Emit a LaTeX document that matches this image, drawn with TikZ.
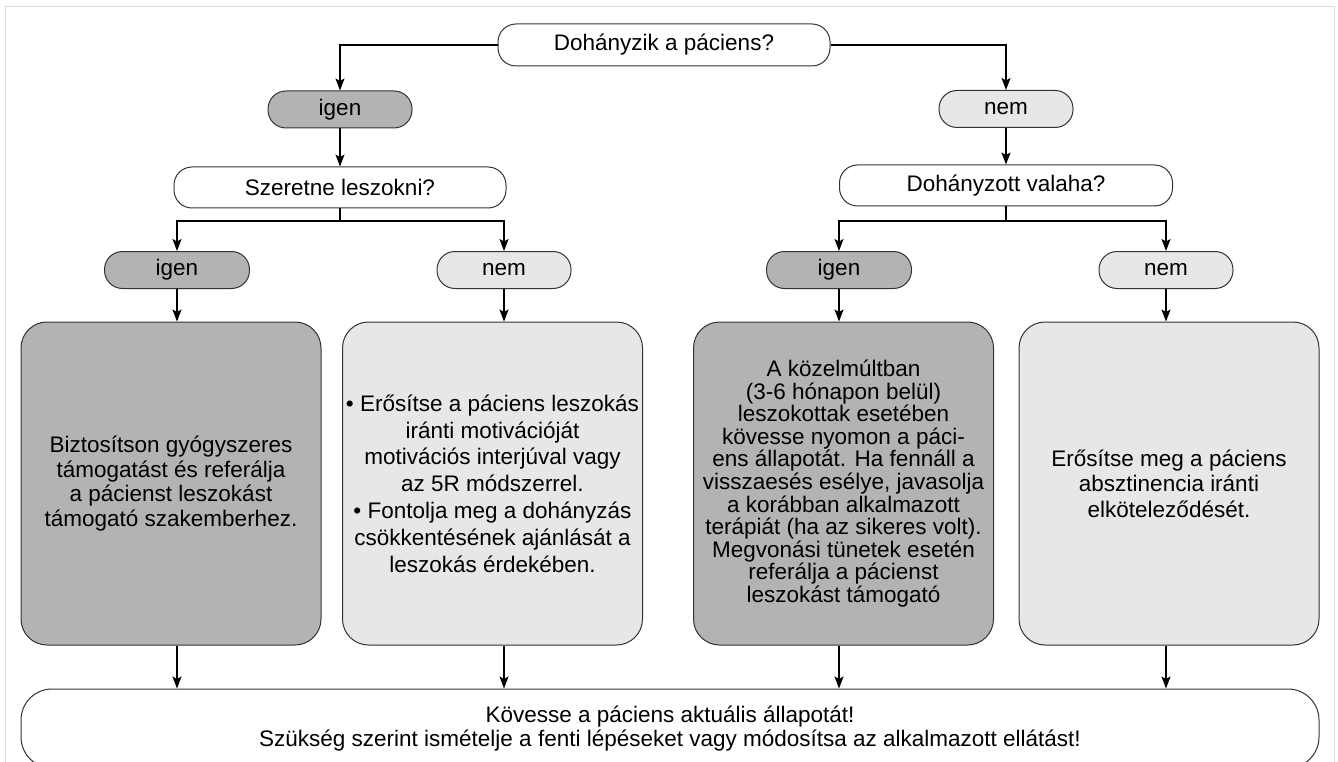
\documentclass[tikz,border=0pt]{standalone}
\usepackage{fontspec}
\setmainfont{Liberation Sans}
\usetikzlibrary{arrows.meta}
\definecolor{darkfill}{HTML}{B1B3B5}
\definecolor{lightfill}{HTML}{E6E7E8}
\definecolor{edge}{HTML}{333333}
\definecolor{frame}{HTML}{DADADA}
\tikzset{
  base/.style={draw=edge, line width=1pt, inner sep=0pt, align=center,
    font=\fontsize{22.5}{24}\selectfont},
  pill/.style={base, rectangle, rounded corners=18pt, minimum height=37pt},
  qpill/.style={pill, fill=white, minimum height=42pt, minimum width=332pt},
  dpill/.style={pill, fill=darkfill, minimum width=145pt},
  lpill/.style={pill, fill=lightfill, minimum width=134pt},
  card/.style={base, rounded corners=26pt, minimum width=300pt, minimum height=323pt},
  dcard/.style={card, fill=darkfill},
  lcard/.style={card, fill=lightfill},
  arr/.style={line width=1.2pt, black, -{Stealth[length=12pt,width=9pt,inset=2.5pt]}},
  ln/.style={line width=1.2pt, black},
}
\begin{document}
\begin{tikzpicture}[x=1pt,y=-1pt]
\clip (0,0) rectangle (1338,762);
\fill[white] (0,0) rectangle (1338,762);
\draw[frame, line width=1pt] (5,770) -- (5,7) -- (1334,7) -- (1334,770);

% top question
\node[qpill] (q1) at (664,45) {Dohányzik a páciens?};
\node[dpill, minimum width=144pt] (y1) at (340,109.5) {igen};
\node[lpill] (n1) at (1006,109) {nem};
\node[qpill, minimum height=41pt] (q2) at (340,187.5) {Szeretne leszokni?};
\node[qpill, minimum height=41pt, minimum width=333pt] (q3) at (1006,185.5) {Dohányzott valaha?};

\node[dpill] (y2) at (177,270) {igen};
\node[lpill] (n2) at (504,270) {nem};
\node[dpill] (y3) at (839,270) {igen};
\node[lpill] (n3) at (1166,270) {nem};

\node[dcard, font=\fontsize{22.5}{24.5}\selectfont] (b1) at (171,483.5)
  {Biztosítson gyógyszeres\\támogatást és referálja\\a pácienst leszokást\\támogató szakemberhez.};
\node[lcard, font=\fontsize{22.5}{26.8}\selectfont] (b2) at (492.5,483.5)
  {• Erősítse a páciens leszokás\\iránti motivációját\\motivációs interjúval vagy\\az 5R módszerrel.\\• Fontolja meg a dohányzás\\csökkentésének ajánlását a\\leszokás érdekében.};
\node[dcard, font=\fontsize{22.5}{22.6}\selectfont] (b3) at (843.5,483.5)
  {A közelmúltban\\(3-6 hónapon belül)\\leszokottak esetében\\kövesse nyomon a páci-\\ens állapotát. Ha fennáll a\\visszaesés esélye, javasolja\\a korábban alkalmazott\\terápiát (ha az sikeres volt).\\Megvonási tünetek esetén\\referálja a pácienst\\leszokást támogató};
\node[lcard, font=\fontsize{22.5}{25.5}\selectfont] (b4) at (1169,483.5)
  {Erősítse meg a páciens\\absztinencia iránti\\elköteleződését.};

\node[base, fill=white, rounded corners=31pt, minimum width=1298pt, minimum height=79pt] (fin) at (670,728.5)
  {Kövesse a páciens aktuális állapotát!\\Szükség szerint ismételje a fenti lépéseket vagy módosítsa az alkalmazott ellátást!};

% connectors
\draw[arr] (q1.west) -| (y1.north);
\draw[arr] (q1.east) -| (n1.north);
\draw[arr] (y1.south) -- (q2.north);
\draw[arr] (n1.south) -- (q3.north);

\draw[ln] (q2.south) -- ++(0,12.5) coordinate (s2);
\draw[arr] (s2) -| (y2.north);
\draw[arr] (s2) -| (n2.north);
\draw[ln] (q3.south) -- ++(0,14.5) coordinate (s3);
\draw[arr] (s3) -| (y3.north);
\draw[arr] (s3) -| (n3.north);

\draw[arr] (y2.south) -- (y2.south |- b1.north);
\draw[arr] (n2.south) -- (n2.south |- b2.north);
\draw[arr] (y3.south) -- (y3.south |- b3.north);
\draw[arr] (n3.south) -- (n3.south |- b4.north);

\draw[arr] (y2 |- b1.south) -- (y2 |- fin.north);
\draw[arr] (n2 |- b2.south) -- (n2 |- fin.north);
\draw[arr] (y3 |- b3.south) -- (y3 |- fin.north);
\draw[arr] (n3 |- b4.south) -- (n3 |- fin.north);
\end{tikzpicture}
\end{document}
